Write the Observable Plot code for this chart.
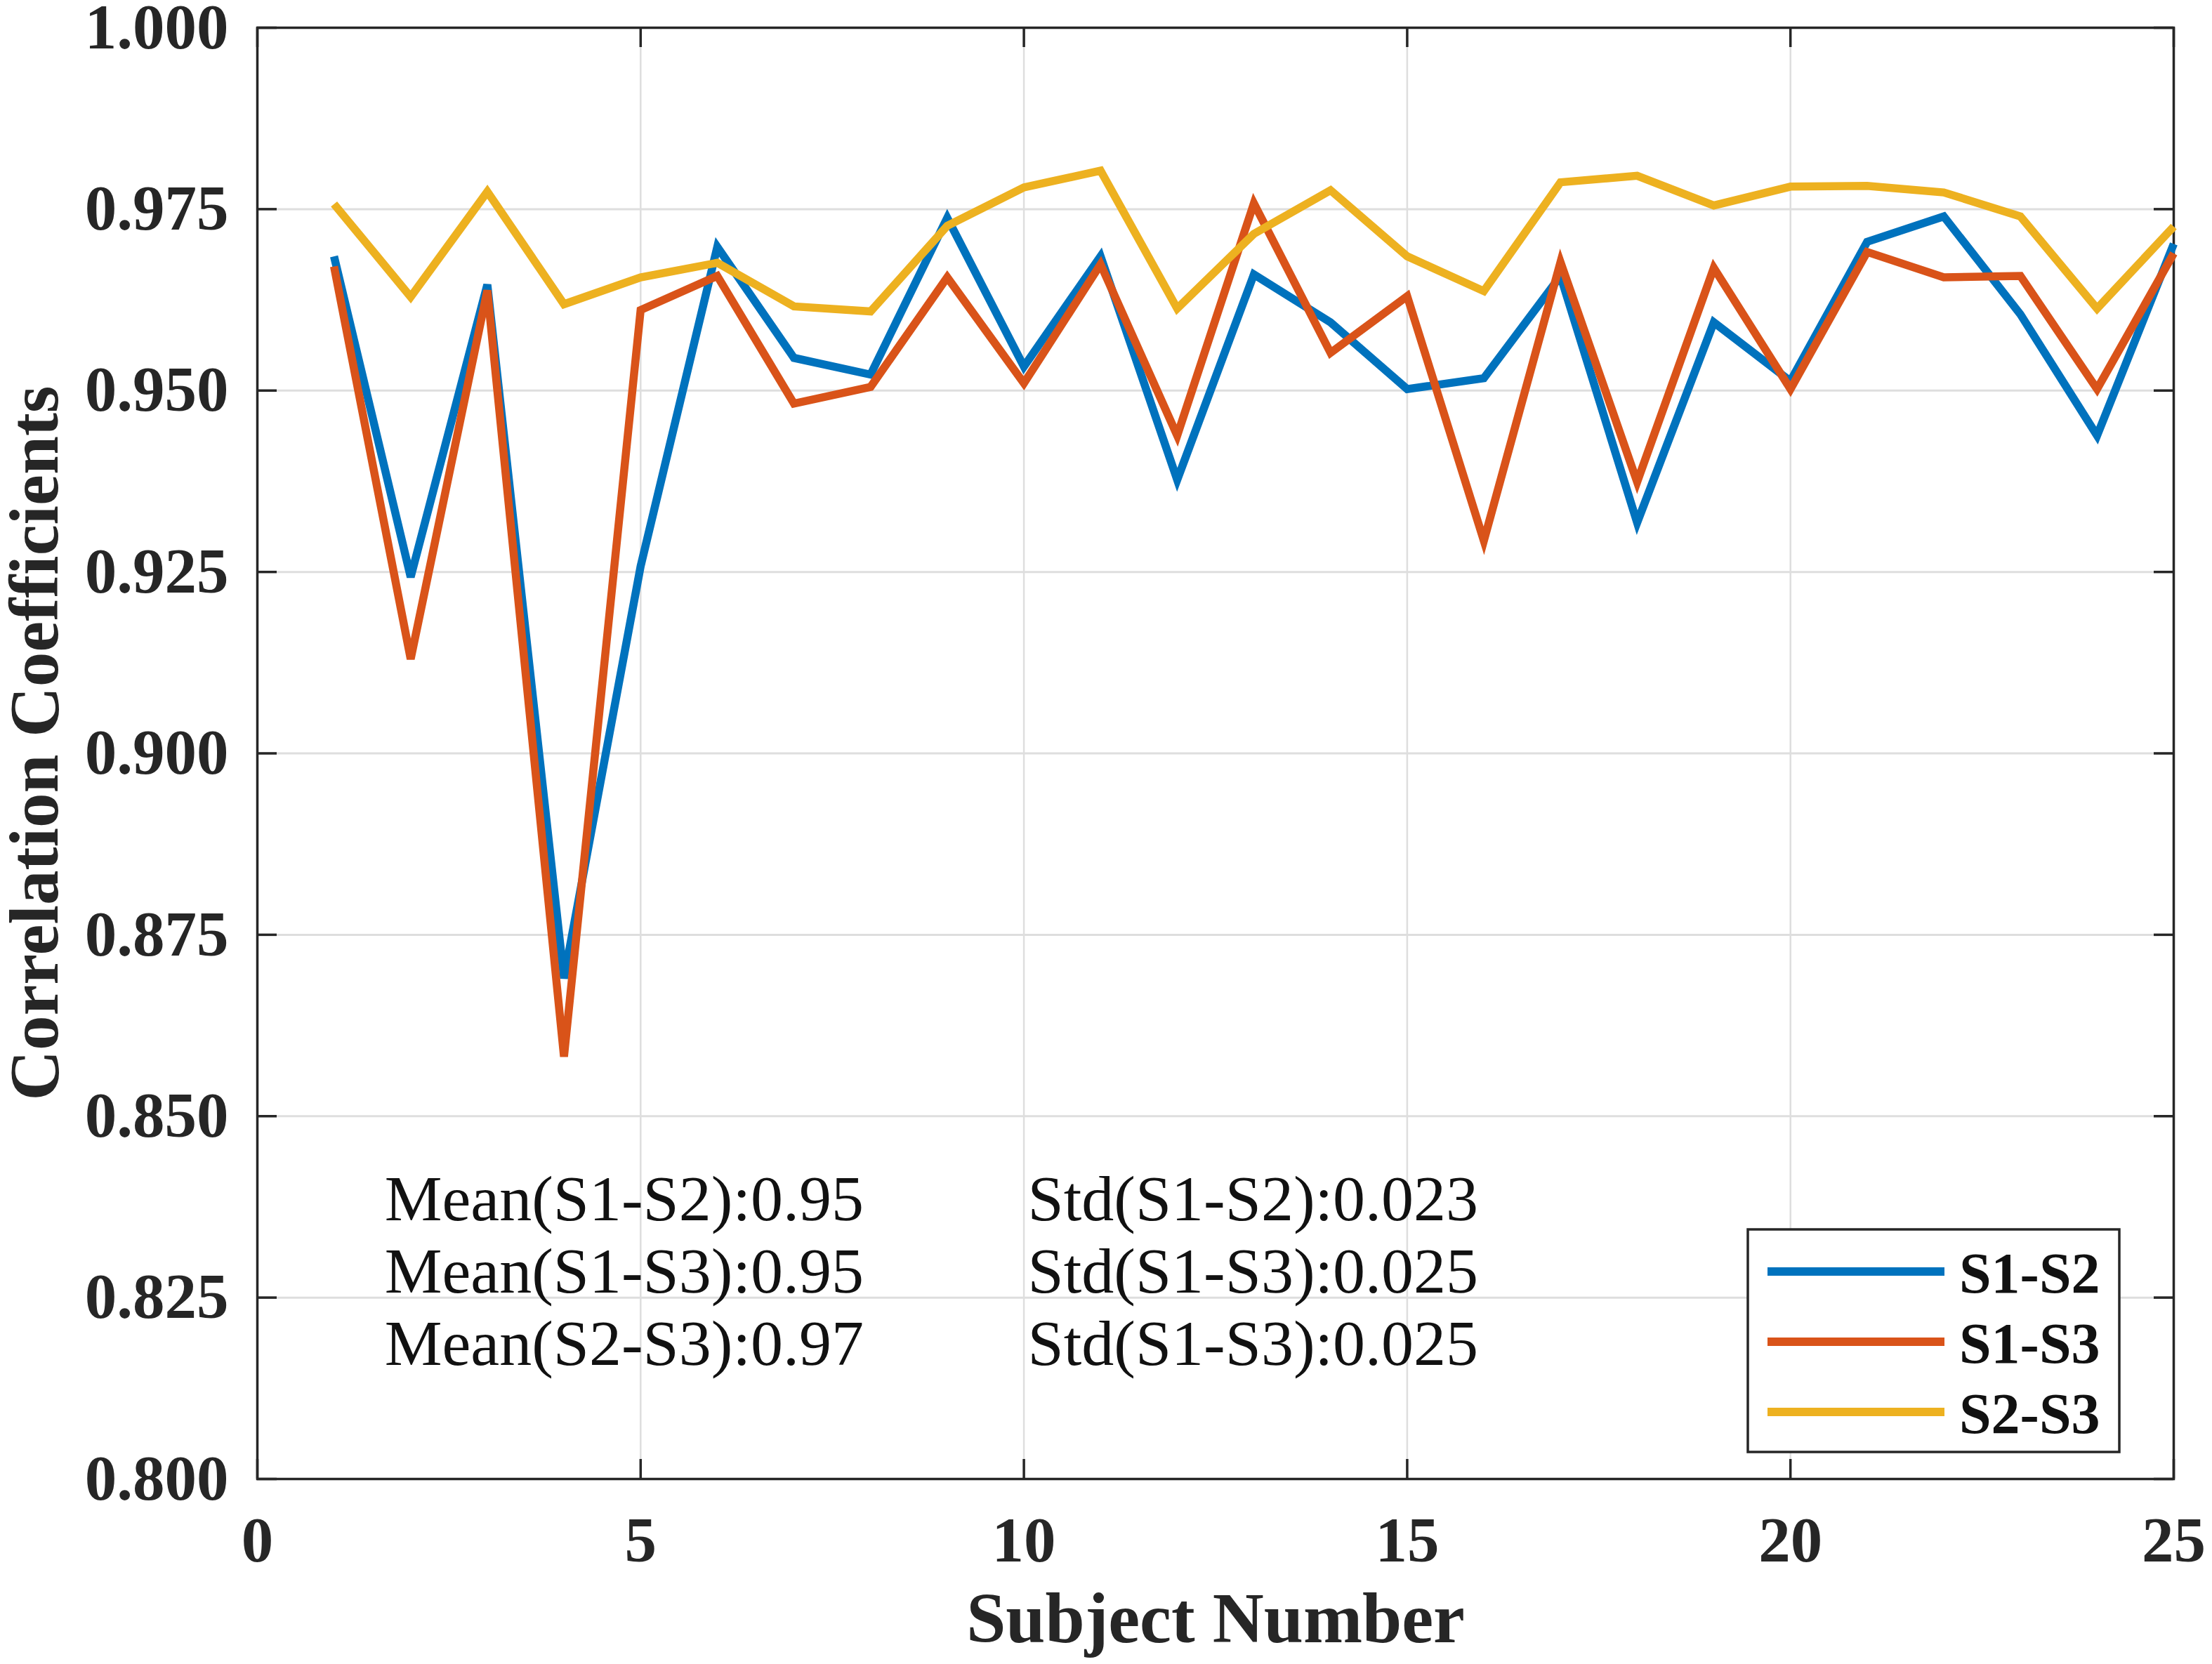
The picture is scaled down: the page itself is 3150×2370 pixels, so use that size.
<!DOCTYPE html>
<html>
<head>
<meta charset="utf-8">
<script src="https://cdn.jsdelivr.net/npm/d3@7"></script>
<script src="https://cdn.jsdelivr.net/npm/@observablehq/plot@0.6"></script>
<style>
  html, body { margin: 0; padding: 0; background: #ffffff; }
  #chart svg { display: block; }
</style>
</head>
<body>
<div id="chart"></div>
<script>
// ---- data ----
const subjects = d3.range(1, 26);
const seriesNames = ["S1-S2", "S1-S3", "S2-S3"];
const seriesColors = ["#0072BD", "#D95319", "#EDB120"];
const s1s2 = [0.9685, 0.9243, 0.9646, 0.8690, 0.9258, 0.9698, 0.9545, 0.9522, 0.9738, 0.9533,
              0.9685, 0.9377, 0.9660, 0.9594, 0.9502, 0.9517, 0.9658, 0.9318, 0.9594, 0.9513,
              0.9705, 0.9740, 0.9605, 0.9438, 0.9702];
const s1s3 = [0.9671, 0.9130, 0.9638, 0.8582, 0.9611, 0.9658, 0.9482, 0.9505, 0.9656, 0.9510,
              0.9674, 0.9438, 0.9758, 0.9552, 0.9630, 0.9293, 0.9677, 0.9374, 0.9669, 0.9502,
              0.9691, 0.9656, 0.9658, 0.9502, 0.9689];
const s2s3 = [0.9757, 0.9629, 0.9774, 0.9619, 0.9656, 0.9676, 0.9616, 0.9609, 0.9727, 0.9780,
              0.9803, 0.9613, 0.9716, 0.9776, 0.9685, 0.9637, 0.9787, 0.9796, 0.9755, 0.9781,
              0.9782, 0.9773, 0.9740, 0.9613, 0.9726];
const xTicks = [0, 5, 10, 15, 20, 25];
const yTicks = [0.800, 0.825, 0.850, 0.875, 0.900, 0.925, 0.950, 0.975, 1.000];
const xTitle = "Subject Number";
const yTitle = "Correlation Coefficients";
const meanLines = ["Mean(S1-S2):0.95", "Mean(S1-S3):0.95", "Mean(S2-S3):0.97"];
const stdLines  = ["Std(S1-S2):0.023", "Std(S1-S3):0.025", "Std(S1-S3):0.025"];
// annotation anchors (data space: subject, coefficient)
const meanX = 1.66, stdX = 10.05;
const annotY = [0.8385, 0.8285, 0.8186];

// ---- build table ----
const allValues = [s1s2, s1s3, s2s3];
const table = seriesNames.flatMap((name, k) =>
  subjects.map((s, i) => ({subject: s, value: allValues[k][i], series: name})));
const annot = [
  ...meanLines.map((t, i) => ({x: meanX, y: annotY[i], t})),
  ...stdLines.map((t, i) => ({x: stdX, y: annotY[i], t}))
];

const W = 3150, H = 2370;
const mL = 366, mR = 55, mT = 39, mB = 264;
const fw = W - mL - mR, fh = H - mT - mB;
const serif = "'Liberation Serif', 'Times New Roman', Times, serif";
const axisColor = "#262626";
const gridColor = "#dedede";
const tickLen = 28;

const plot = Plot.plot({
  width: W, height: H,
  marginLeft: mL, marginRight: mR, marginTop: mT, marginBottom: mB,
  style: {background: "#ffffff", fontFamily: serif, color: axisColor},
  x: {domain: [0, 25], label: null},
  y: {domain: [0.8, 1.0], label: null},
  color: {domain: seriesNames, range: seriesColors},
  marks: [
    Plot.gridX(xTicks, {stroke: gridColor, strokeOpacity: 1, strokeWidth: 2.5}),
    Plot.gridY(yTicks, {stroke: gridColor, strokeOpacity: 1, strokeWidth: 3}),
    // inner ticks
    Plot.tickY(yTicks, {y: d => d, insetRight: fw - tickLen, stroke: axisColor, strokeWidth: 3.5}),
    Plot.tickY(yTicks, {y: d => d, insetLeft: fw - tickLen, stroke: axisColor, strokeWidth: 3.5}),
    Plot.tickX(xTicks, {x: d => d, insetTop: fh - tickLen, stroke: axisColor, strokeWidth: 3.5}),
    Plot.tickX(xTicks, {x: d => d, insetBottom: fh - tickLen, stroke: axisColor, strokeWidth: 3.5}),
    Plot.axisY(yTicks, {tickSize: 0, tickPadding: 41, tickFormat: d3.format(".3f"),
      fontSize: 91, fontWeight: "bold", fill: axisColor, label: null}),
    Plot.axisX(xTicks, {tickSize: 0, tickPadding: 53, tickFormat: d3.format("d"),
      fontSize: 91, fontWeight: "bold", fill: axisColor, label: null}),
    Plot.frame({stroke: axisColor, strokeWidth: 3.5}),
    Plot.line(table, {x: "subject", y: "value", stroke: "series", z: "series",
      strokeWidth: 11.5, strokeLinejoin: "miter", strokeMiterlimit: 4, strokeLinecap: "butt"}),
    Plot.text(annot, {x: "x", y: "y", text: "t", textAnchor: "start", lineAnchor: "middle",
      fontSize: 92, fill: "#111111"}),
    Plot.text([xTitle], {frameAnchor: "bottom", dy: 2306 - (H - mB), fontSize: 101,
      fontWeight: "bold", fill: axisColor, lineAnchor: "middle"}),
    Plot.text([yTitle], {frameAnchor: "left", dx: 50 - mL, dy: 1058 - (mT + fh / 2), rotate: -90,
      fontSize: 99, fontWeight: "bold", fill: axisColor, lineAnchor: "middle", textAnchor: "middle"})
  ]
});

// ---- legend box inside the axes (bottom-right) ----
const colorScale = plot.scale("color");
const svg = d3.select(plot);
const boxW = 529, boxH = 317;
const boxX = (mL + fw) - 77 - boxW, boxY = (mT + fh) - 38 - boxH;
const lg = svg.append("g").attr("font-family", serif).attr("text-anchor", "start");
lg.append("rect").attr("x", boxX).attr("y", boxY).attr("width", boxW).attr("height", boxH)
  .attr("fill", "#ffffff").attr("stroke", axisColor).attr("stroke-width", 3.5);
seriesNames.forEach((name, i) => {
  const cy = boxY + 60 + i * 100;
  lg.append("line").attr("x1", boxX + 28).attr("x2", boxX + 280).attr("y1", cy).attr("y2", cy)
    .attr("stroke", colorScale.apply(name)).attr("stroke-width", 12);
  lg.append("text").attr("x", boxX + 301).attr("y", cy + 30).attr("text-anchor", "start")
    .attr("font-size", 82).attr("font-weight", "bold").attr("fill", "#111111").text(name);
});

document.getElementById("chart").appendChild(plot);
</script>
</body>
</html>
